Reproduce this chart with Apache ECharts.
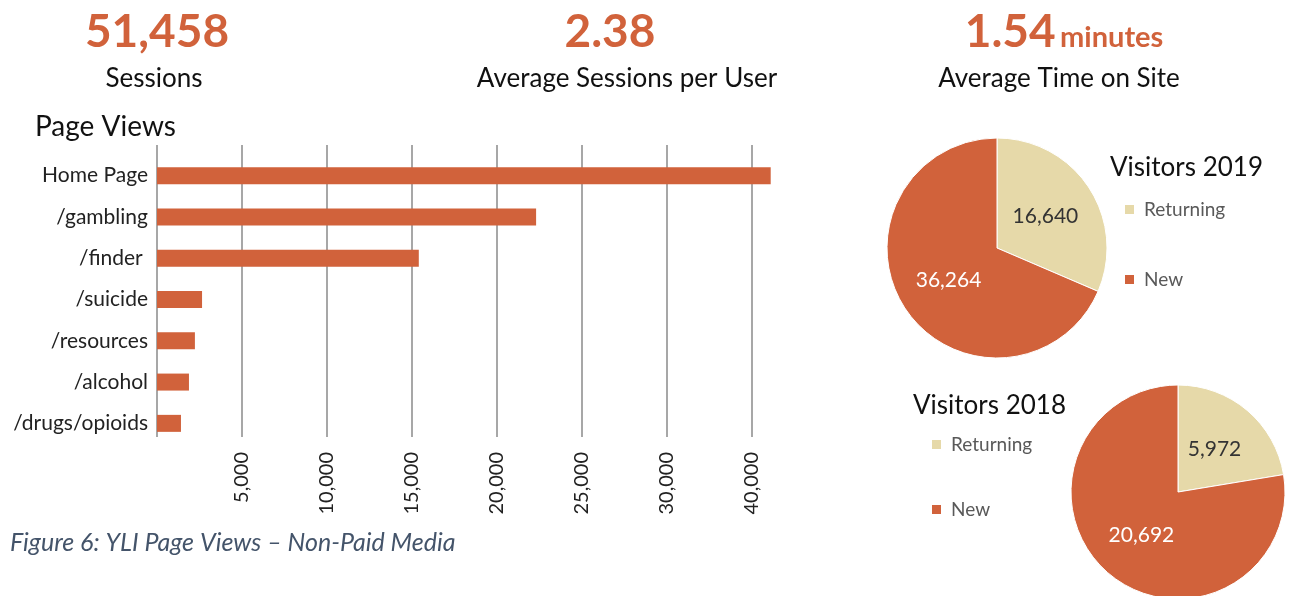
<!DOCTYPE html>
<html>
<head>
<meta charset="utf-8">
<script src="https://cdn.jsdelivr.net/npm/echarts@6/dist/echarts.min.js"></script>
<style>
  html, body { margin: 0; padding: 0; background: #fff; }
  #chart { width: 1289px; height: 596px; }
</style>
</head>
<body>
<div id="chart"></div>
<script>
// page views (in axis units)
const pages = ['Home Page', '/gambling', '/finder ', '/suicide', '/resources', '/alcohol', '/drugs/opioids'];
const pageViews = [36100, 22300, 15400, 2650, 2230, 1880, 1410];
const tickLabels = ['5,000', '10,000', '15,000', '20,000', '25,000', '30,000', '40,000'];

// visitors
const visitorTypes = ['Returning', 'New'];
const visitors2019 = [16640, 36264];
const visitors2018 = [5972, 20692];

const ORANGE = '#D1623B';
const BEIGE = '#E6D9A9';
const FONT = 'Lato, "Open Sans", sans-serif';
const AXIS_MAX = 36500;

const chart = echarts.init(document.getElementById('chart'));

const pieData = (vals) => vals.map((v, i) => ({
  name: visitorTypes[i],
  value: v,
  itemStyle: { color: i === 0 ? BEIGE : ORANGE },
  label: { color: i === 0 ? '#333' : '#fff' }
}));

const kpi = (text, x, y, size, color, weight) => ({
  text, left: x, top: y, textAlign: 'center',
  textStyle: { fontSize: size, color, fontWeight: weight || 'normal', fontFamily: FONT }
});

const plain = (text, x, y, size) => ({
  text, left: x, top: y,
  textStyle: { fontSize: size, color: '#111', fontWeight: 'normal', fontFamily: FONT }
});

const legendStyle = { fontSize: 19, color: '#595959', fontFamily: FONT, padding: [0, 0, 0, 4] };

chart.setOption({
  animation: false,
  title: [
    kpi('51,458', 152, 4, 46, ORANGE, 'bold'),
    kpi('Sessions', 149, 61, 26, '#111'),
    kpi('2.38', 605, 4, 46, ORANGE, 'bold'),
    kpi('Average Sessions per User', 622, 61, 26, '#111'),
    {
      text: '{a|1.54} {b|minutes}', left: 1059, top: 4, textAlign: 'center',
      textStyle: {
        fontFamily: FONT,
        rich: {
          a: { fontSize: 46, fontWeight: 'bold', color: ORANGE, fontFamily: FONT },
          b: { fontSize: 29, fontWeight: 'bold', color: ORANGE, fontFamily: FONT, padding: [12, 0, 0, 0] }
        }
      }
    },
    kpi('Average Time on Site', 1054, 61, 26, '#111'),
    plain('Page Views', 30, 108, 28),
    plain('Visitors 2019', 1105, 150, 26),
    plain('Visitors 2018', 908, 388, 26),
    { text: 'Figure 6: YLI Page Views \u2013 Non-Paid Media', left: 5, top: 525,
      textStyle: { fontSize: 25, color: '#44546A', fontStyle: 'italic', fontWeight: 'normal', fontFamily: FONT } }
  ],
  legend: [
    {
      data: visitorTypes, orient: 'vertical', left: 1123, top: 200, padding: 0, icon: 'rect',
      itemWidth: 11, itemHeight: 11, itemGap: 51, selectedMode: false, textStyle: legendStyle
    },
    {
      data: visitorTypes, orient: 'vertical', left: 930, top: 435, padding: 0, icon: 'rect',
      itemWidth: 11, itemHeight: 11, itemGap: 46, selectedMode: false, textStyle: legendStyle
    }
  ],
  grid: [
    // gridlines and value labels
    { left: 157, top: 145, width: AXIS_MAX / 5000 * 85, height: 292 },
    // bars and categories
    { left: 157, top: 155, width: AXIS_MAX / 5000 * 85, height: 289 }
  ],
  xAxis: [
    {
      gridIndex: 0, type: 'value', min: 0, max: AXIS_MAX, interval: 5000,
      axisLine: { show: false },
      axisTick: { show: false },
      splitLine: { show: true, showMaxLine: false, lineStyle: { color: '#8a8a8a', width: 1.5 } },
      axisLabel: {
        rotate: 90, margin: 15, fontSize: 20, color: '#222', fontFamily: FONT,
        showMaxLabel: false,
        formatter: (v) => (v === 0 ? '' : (tickLabels[v / 5000 - 1] || ''))
      }
    },
    {
      gridIndex: 1, type: 'value', min: 0, max: AXIS_MAX, show: false
    }
  ],
  yAxis: [
    { gridIndex: 0, type: 'category', data: pages, show: false },
    {
      gridIndex: 1, type: 'category', data: pages, inverse: true,
      axisLine: { show: false },
      axisTick: { show: false },
      axisLabel: { fontSize: 21, color: '#222', margin: 9, fontFamily: FONT }
    }
  ],
  series: [
    {
      type: 'bar', xAxisIndex: 1, yAxisIndex: 1, data: pageViews, barWidth: 17,
      itemStyle: { color: ORANGE }
    },
    {
      type: 'pie', center: [997, 248], radius: 110, startAngle: 90, clockwise: true,
      data: pieData(visitors2019),
      itemStyle: { borderColor: '#fff', borderWidth: 1 },
      label: { position: 'inside', fontSize: 21, fontFamily: FONT,
        formatter: (p) => echarts.format.addCommas(p.value) },
      labelLine: { show: false }
    },
    {
      type: 'pie', center: [1178, 492], radius: 107, startAngle: 90, clockwise: true,
      data: pieData(visitors2018),
      itemStyle: { borderColor: '#fff', borderWidth: 1 },
      label: { position: 'inside', fontSize: 21, fontFamily: FONT,
        formatter: (p) => echarts.format.addCommas(p.value) },
      labelLine: { show: false }
    }
  ]
});
</script>
</body>
</html>
